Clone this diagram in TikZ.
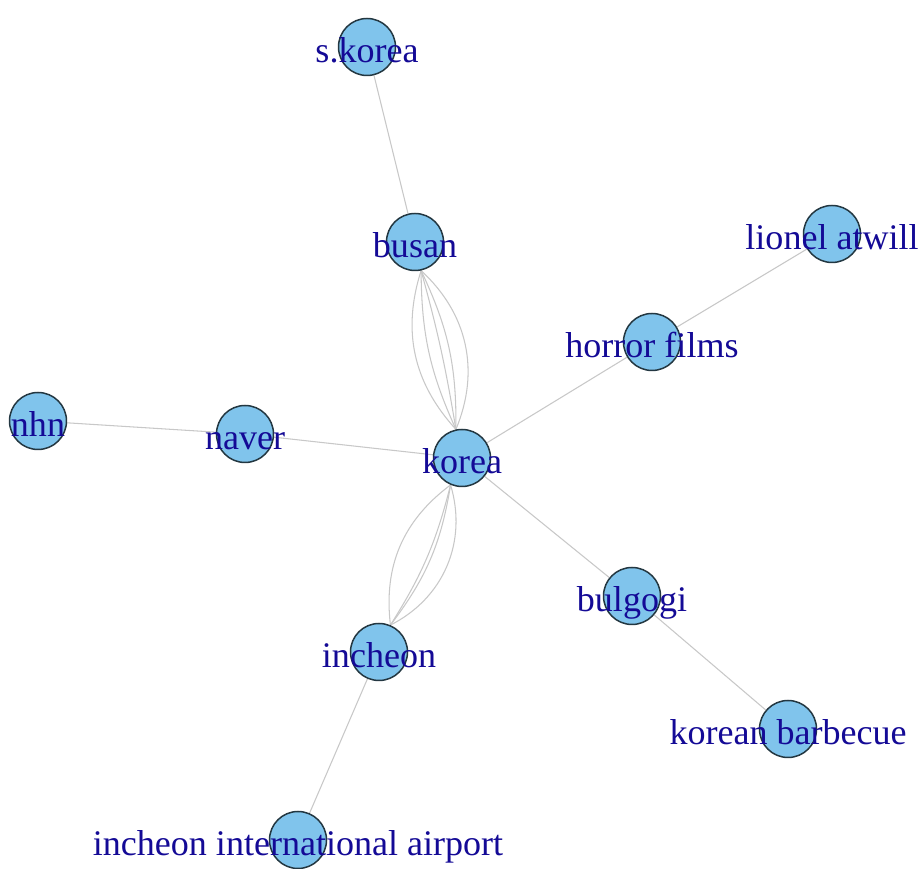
\documentclass[tikz,border=0pt]{standalone}
\usepackage{fontspec}
\setmainfont{Liberation Serif}
\usepackage{tikz}
\usetikzlibrary{backgrounds}
\definecolor{vtxfill}{RGB}{128,196,236}
\definecolor{vtxline}{RGB}{35,55,65}
\definecolor{lblblue}{RGB}{20,10,150}
\definecolor{edgegray}{RGB}{200,200,200}
\tikzset{
  vtx/.style={circle, draw=vtxline, fill=vtxfill, minimum size=1.14cm,
    inner sep=0pt, line width=0.85pt},
  lbl/.style={anchor=base, yshift=-0.32cm, inner sep=0pt, text=lblblue,
    font=\fontsize{20.5}{24}\selectfont},
  edge/.style={draw=edgegray, line width=0.6pt}
}

\begin{document}
\begin{tikzpicture}
  \useasboundingbox (0,0) rectangle (18.38,17.38);

  % vertices
  \node[vtx] (skorea)   at (7.34,16.44) {};
  \node[vtx] (busan)    at (8.30,12.54) {};
  \node[vtx] (atwill)   at (16.64,12.70) {};
  \node[vtx] (horror)   at (13.04,10.54) {};
  \node[vtx] (nhn)      at (0.76,8.96) {};
  \node[vtx] (naver)    at (4.90,8.70) {};
  \node[vtx] (korea)    at (9.24,8.22) {};
  \node[vtx] (bulgogi)  at (12.64,5.46) {};
  \node[vtx] (incheon)  at (7.58,4.34) {};
  \node[vtx] (bbq)      at (15.76,2.80) {};
  \node[vtx] (airport)  at (5.96,0.58) {};

  % labels sit on top of the circles
  \node[lbl] (skorealbl)  at (skorea)  {s.korea};
  \node[lbl] (busanlbl)   at (busan)   {busan};
  \node[lbl] (atwilllbl)  at (atwill)  {lionel atwill};
  \node[lbl] (horrorlbl)  at (horror)  {horror films};
  \node[lbl] (nhnlbl)     at (nhn)     {nhn};
  \node[lbl] (naverlbl)   at (naver)   {naver};
  \node[lbl] (korealbl)   at (korea)   {korea};
  \node[lbl] (bulgogilbl) at (bulgogi) {bulgogi};
  \node[lbl] (incheonlbl) at (incheon) {incheon};
  \node[lbl] (bbqlbl)     at (bbq)     {korean barbecue};
  \node[lbl] (airportlbl) at (airport) {incheon international airport};

  % edges go underneath
  \begin{scope}[on background layer]
    \fill[white] (0,0) rectangle (18.38,17.38);
    \draw[edge] (skorea) -- (busan);
    \draw[edge] (busan.-78) to[bend right=30] (korea.102);
    \draw[edge] (busan.-78) to[bend right=12] (korea.102);
    \draw[edge] (busan.-78) to[bend left=3] (korea.102);
    \draw[edge] (busan.-78) to[bend left=13] (korea.102);
    \draw[edge] (busan.-78) to[bend left=35] (korea.102);
    \draw[edge] (korea.-113) to[bend right=30] (incheon.67);
    \draw[edge] (korea.-113) to[bend left=9] (incheon.67);
    \draw[edge] (korea.-113) to[bend left=14] (incheon.67);
    \draw[edge] (korea.-113) to[bend left=40] (incheon.67);
    \draw[edge] (incheon) -- (airport);
    \draw[edge] (korea) -- (naver);
    \draw[edge] (naver) -- (nhn);
    \draw[edge] (korea) -- (horror);
    \draw[edge] (horror) -- (atwill);
    \draw[edge] (korea) -- (bulgogi);
    \draw[edge] (bulgogi) -- (bbq);
  \end{scope}
\end{tikzpicture}
\end{document}
